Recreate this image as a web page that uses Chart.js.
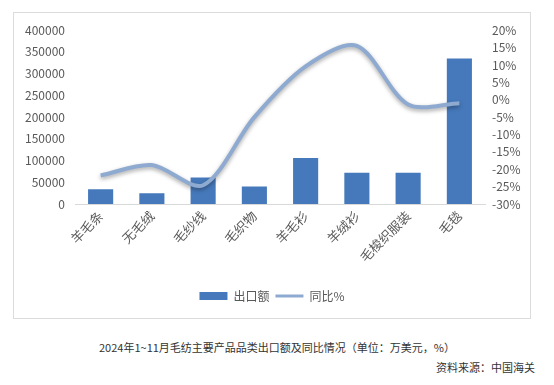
<!DOCTYPE html>
<html>
<head>
<meta charset="utf-8">
<script src="https://cdn.jsdelivr.net/npm/chart.js@4/dist/chart.umd.min.js"></script>
<style>
  body { margin: 0; background: #fff; width: 554px; height: 385px; position: relative; overflow: hidden;
         font-family: "Noto Sans CJK SC", sans-serif; }
  #box { position: absolute; left: 13px; top: 12px; width: 516px; height: 305px; border: 1px solid #dcdcdc; }
  #title { position: absolute; left: 0; width: 554px; top: 339px; text-align: center; font-size: 11px; color: #333; }
  #source { position: absolute; right: 19px; top: 359px; font-size: 11px; color: #333; }
</style>
</head>
<body>
<div id="box"><canvas id="myChart" width="516" height="305"></canvas></div>
<div id="title">2024年1~11月毛纺主要产品品类出口额及同比情况（单位：万美元，%）</div>
<div id="source">资料来源：中国海关</div>
<script>
var categories = ['羊毛条', '无毛绒', '毛纱线', '毛织物', '羊毛衫', '羊绒衫', '毛梭织服装', '毛毯'];
var exportValues = [34000, 25000, 61000, 40000, 106000, 72000, 72000, 335000];
var yoyValues = [-21.8, -18.8, -24.6, -5, 9.6, 15.5, -1.4, -1];
var leftTicks = [0, 400000, 50000];
var rightTicks = [-30, 20, 5];

var tickColor = '#595959';
var tickFont = { family: '"Noto Sans CJK SC", sans-serif', size: 12 };

var lineShadow = {
    id: 'lineShadow',
    beforeDatasetDraw: function (chart, args) {
        if (args.index === 1) {
            chart.ctx.save();
            chart.ctx.shadowColor = 'rgba(0,0,0,0.35)';
            chart.ctx.shadowBlur = 4;
            chart.ctx.shadowOffsetY = 2;
        }
    },
    afterDatasetDraw: function (chart, args) {
        if (args.index === 1) chart.ctx.restore();
    }
};

const data = {
    labels: categories,
    datasets: [{
        type: 'bar',
        label: '出口额',
        data: exportValues,
        backgroundColor: '#4679bb',
        barPercentage: 0.49,
        categoryPercentage: 1,
        yAxisID: 'y',
        order: 1
    }, {
        type: 'line',
        label: '同比%',
        data: yoyValues,
        borderColor: '#8eaad0',
        backgroundColor: '#8eaad0',
        borderWidth: 4,
        pointRadius: 0,
        tension: 0.3,
        yAxisID: 'y1',
        order: 0
    }]
};

const config = {
    data: data,
    plugins: [lineShadow],
    options: {
        responsive: false,
        animation: false,
        layout: { padding: { top: 13, left: 0, right: 0, bottom: 6 } },
        plugins: {
            tooltip: { enabled: false },
            legend: {
                position: 'bottom',
                labels: {
                    color: tickColor,
                    font: tickFont,
                    usePointStyle: true,
                    pointStyleWidth: 28,
                    boxHeight: 8,
                    padding: 6,
                    sort: function (a, b) { return a.datasetIndex - b.datasetIndex; },
                    generateLabels: function (chart) {
                        var items = Chart.defaults.plugins.legend.labels.generateLabels(chart);
                        items.forEach(function (it) {
                            if (it.datasetIndex === 0) { it.pointStyle = 'rect'; it.lineWidth = 0; }
                            else { it.pointStyle = 'line'; it.lineWidth = 3; }
                        });
                        return items;
                    }
                }
            }
        },
        scales: {
            x: {
                offset: true,
                grid: { display: false, drawTicks: false },
                border: { display: true, color: '#d9d9d9' },
                ticks: { color: tickColor, font: { family: tickFont.family, size: 13 },
                         minRotation: 45, maxRotation: 45, padding: 4 },
                afterFit: function (scale) { scale.height = 80; }
            },
            y: {
                position: 'left',
                min: leftTicks[0], max: leftTicks[1],
                grid: { display: false, drawTicks: false },
                border: { display: false },
                ticks: { stepSize: leftTicks[2], color: tickColor, font: tickFont, padding: 10, autoSkip: false,
                         callback: function (v) { return String(v); } },
                afterFit: function (scale) { scale.width = 61; }
            },
            y1: {
                position: 'right',
                min: rightTicks[0], max: rightTicks[1],
                grid: { display: false, drawTicks: false },
                border: { display: false },
                ticks: { stepSize: rightTicks[2], color: tickColor, font: tickFont, padding: 7, autoSkip: false,
                         callback: function (v) { return v + '%'; } },
                afterFit: function (scale) { scale.width = 45; }
            }
        }
    }
};

var chart = new Chart(document.getElementById('myChart'), config);
</script>
</body>
</html>
